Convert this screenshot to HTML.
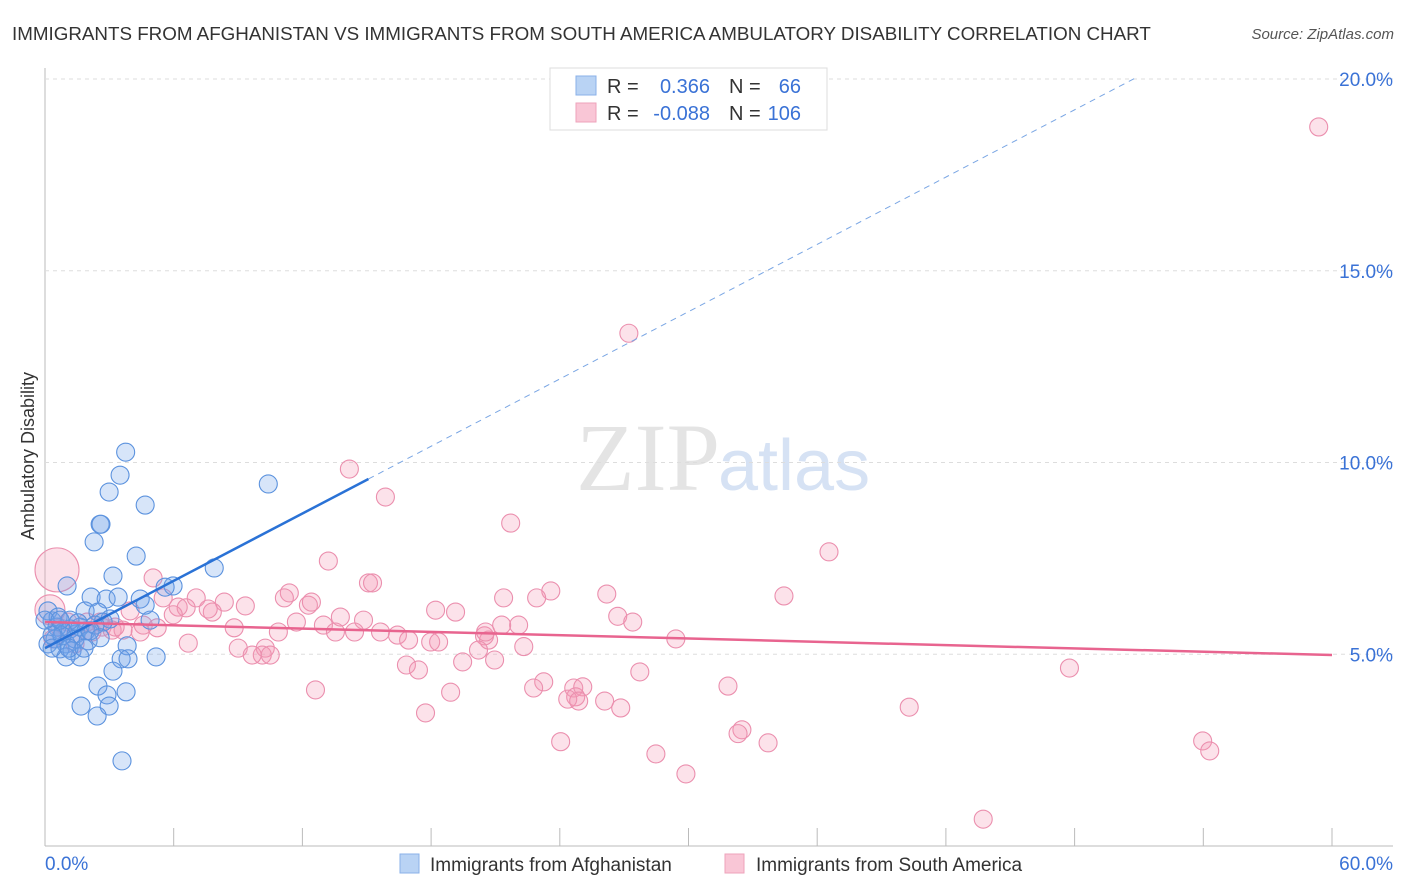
<!DOCTYPE html>
<html><head><meta charset="utf-8"><style>
body{margin:0;background:#fff;font-family:"Liberation Sans",sans-serif}
svg{display:block}
</style></head><body>
<svg id="c" width="1406" height="892">
<text x="12" y="40" font-size="18.8" fill="#333">IMMIGRANTS FROM AFGHANISTAN VS IMMIGRANTS FROM SOUTH AMERICA AMBULATORY DISABILITY CORRELATION CHART</text>
<text x="1394" y="39" font-size="15" fill="#555" font-style="italic" text-anchor="end">Source: ZipAtlas.com</text>
<text x="720" y="490" font-size="96" fill="#e4e4e4" text-anchor="end" font-family="Liberation Serif,serif">ZIP</text>
<text x="718" y="490" font-size="72" fill="#d6e2f4">atlas</text>
<text transform="translate(34,456) rotate(-90)" font-size="18" fill="#333" text-anchor="middle">Ambulatory Disability</text>
<g id="grid"></g><g id="pts"></g><g id="lines"></g>
<g>
<rect x="550" y="68" width="277" height="62" fill="#fff" stroke="#ddd"/>
<rect x="576" y="76" width="20" height="19" fill="#b9d3f4" stroke="#8ab0e8"/>
<rect x="576" y="103" width="20" height="19" fill="#f9c6d6" stroke="#eea3bb"/>
<text x="607" y="93" font-size="20" fill="#333">R =</text>
<text x="710" y="93" font-size="20" fill="#3a72d6" text-anchor="end">0.366</text>
<text x="729" y="93" font-size="20" fill="#333">N =</text>
<text x="801" y="93" font-size="20" fill="#3a72d6" text-anchor="end">66</text>
<text x="607" y="120" font-size="20" fill="#333">R =</text>
<text x="710" y="120" font-size="20" fill="#3a72d6" text-anchor="end">-0.088</text>
<text x="729" y="120" font-size="20" fill="#333">N =</text>
<text x="801" y="120" font-size="20" fill="#3a72d6" text-anchor="end">106</text>
</g>
<g>
<rect x="400" y="854" width="19" height="19" fill="#b9d3f4" stroke="#8ab0e8"/>
<text x="430" y="871" font-size="19" fill="#333">Immigrants from Afghanistan</text>
<rect x="725" y="854" width="19" height="19" fill="#f9c6d6" stroke="#eea3bb"/>
<text x="756" y="871" font-size="19" fill="#333">Immigrants from South America</text>
</g>
</svg>
<script>
const yTicks=[5,10,15,20];
const xTickLabels=["0.0%","60.0%"];
const blueX=[3.76,3.5,2.99,4.67,2.57,2.61,2.29,4.25,10.41,3.17,1.03,5.97,7.89,2.15,2.85,4.44,3.41,5.6,1.87,2.47,3.03,0.14,0.33,0.56,0.84,1.17,1.45,1.63,1.91,0.47,0.98,1.4,2.01,0.14,0.7,1.26,1.63,0.98,3.83,3.55,3.87,5.18,3.17,2.47,3.78,2.89,2.99,1.68,2.43,3.59,2.71,0.61,0.79,0.33,0,2.33,1.17,4.9,4.67,0.33,1.12,2.1,1.54,0.7,1.82,2.57];
const blueY=[10.27,9.67,9.23,8.89,8.39,8.39,7.93,7.56,9.44,7.04,6.78,6.78,7.25,6.49,6.44,6.44,6.49,6.75,6.13,6.1,5.92,6.13,5.87,5.71,5.58,5.66,5.53,5.71,5.61,5.4,5.27,5.4,5.35,5.27,5.14,5.09,4.93,4.93,5.22,4.88,4.88,4.93,4.56,4.17,4.02,3.94,3.65,3.65,3.39,2.22,5.84,5.97,5.48,5.5,5.89,5.76,5.89,5.89,6.28,5.16,5.16,5.61,5.82,5.89,5.16,5.43];
const pinkX=[59.38,27.22,14.19,15.87,21.71,36.55,13.21,5.04,15.08,15.27,23.58,26.19,34.45,22.92,11.39,11.16,12.28,12.42,7.05,8.36,6.21,6.58,7.8,7.61,9.34,13.77,14.85,18.21,19.14,21.38,22.08,21.29,26.7,27.4,5.51,5.98,3.97,4.58,2.66,1.96,1.07,0.7,2.19,3.13,3.64,5.23,4.44,8.82,10.88,11.72,12.98,13.54,14.43,15.64,16.43,16.95,17.98,18.35,20.68,20.49,20.54,22.32,29.41,6.68,9.01,10.27,10.13,9.66,10.5,16.85,17.41,19.47,20.21,20.96,27.73,47.76,23.25,22.78,24.65,25.07,24.74,24.37,24.88,26.09,26.84,18.91,12.61,31.84,40.29,17.74,32.49,32.31,33.71,24.04,28.48,29.88,53.97,54.3,43.74,0.56,0.23,0.37,1.4,2.57,3.27];
const pinkY=[18.75,13.37,9.83,9.1,8.42,7.67,7.43,6.99,6.86,6.86,6.65,6.57,6.52,6.47,6.6,6.47,6.28,6.36,6.47,6.36,6.23,6.21,6.1,6.18,6.26,5.97,5.89,6.15,6.1,6.47,5.76,5.76,5.99,5.84,6.47,6.03,6.13,5.76,5.71,5.84,5.84,5.69,5.58,5.63,5.63,5.69,5.58,5.69,5.58,5.84,5.76,5.58,5.58,5.58,5.5,5.37,5.32,5.32,5.37,5.48,5.58,5.2,5.4,5.29,5.16,5.16,4.98,4.98,4.98,4.72,4.59,4.8,5.11,4.85,4.54,4.64,4.28,4.12,4.12,4.15,3.89,3.83,3.78,3.78,3.6,4.01,4.07,4.17,3.62,3.47,3.03,2.93,2.69,2.72,2.4,1.88,2.74,2.48,0.7,7.2,6.16,5.4,5.27,5.84,5.71];
const pinkR=[9,9,9,9,9,9,9,9,9,9,9,9,9,9,9,9,9,9,9,9,9,9,9,9,9,9,9,9,9,9,9,9,9,9,9,9,9,9,9,9,9,9,9,9,9,9,9,9,9,9,9,9,9,9,9,9,9,9,9,9,9,9,9,9,9,9,9,9,9,9,9,9,9,9,9,9,9,9,9,9,9,9,9,9,9,9,9,9,9,9,9,9,9,9,9,9,9,9,9,22,15,9,9,9,9];
const blueFit=[[0,5.16],[15.08,9.57]], blueSolidEnd=15.08, pinkFit=[[0,5.84],[60,4.98]];
const NS="http://www.w3.org/2000/svg";
const X=v=>45+v*21.45, Y=v=>846-v*38.35;
function mk(t,a,p){const e=document.createElementNS(NS,t);for(const k in a)e.setAttribute(k,a[k]);p.appendChild(e);return e;}
const grid=document.getElementById('grid');
mk('line',{x1:45,y1:68,x2:45,y2:846,stroke:'#bbb'},grid);
mk('line',{x1:45,y1:846,x2:1393,y2:846,stroke:'#bbb'},grid);
for(let i=0;i<=10;i++){const t=mk('line',{x1:X(i*6),x2:X(i*6),y1:828,y2:846,stroke:'#bbb'},grid);

}
yTicks.forEach(v=>{const l=mk('line',{x1:45,x2:1393,y1:Y(v),y2:Y(v),stroke:'#ddd','stroke-dasharray':'4,4'},grid);


const t=mk('text',{x:1393,y:Y(v)+7,'font-size':19,fill:'#3a72d6','text-anchor':'end'},grid);t.textContent=v.toFixed(1)+'%';

});
const x0=mk('text',{x:45,y:870,'font-size':19,fill:'#3a72d6'},grid);x0.textContent=xTickLabels[0];


const x1=mk('text',{x:1393,y:870,'font-size':19,fill:'#3a72d6','text-anchor':'end'},grid);x1.textContent=xTickLabels[1];


const pts=document.getElementById('pts');
pinkX.forEach((v,i)=>{const c=mk('circle',{cx:X(v),cy:Y(pinkY[i]),r:pinkR[i],fill:'rgba(244,150,180,0.28)',stroke:'#eb8fae','stroke-width':1.1},pts);

});
blueX.forEach((v,i)=>{const c=mk('circle',{cx:X(v),cy:Y(blueY[i]),r:9,fill:'rgba(110,160,232,0.28)',stroke:'#5b92de','stroke-width':1.1},pts);

});
const ln=document.getElementById('lines');
const by=x=>blueFit[0][1]+(blueFit[1][1]-blueFit[0][1])*(x-blueFit[0][0])/(blueFit[1][0]-blueFit[0][0]);
const bs=mk('line',{x1:X(0),y1:Y(by(0)),x2:X(blueSolidEnd),y2:Y(by(blueSolidEnd)),stroke:'#2a72d6','stroke-width':2.5},ln);


const xe=blueFit[0][0]+(20.03-blueFit[0][1])/(blueFit[1][1]-blueFit[0][1])*(blueFit[1][0]-blueFit[0][0]);
const bd=mk('line',{x1:X(blueSolidEnd),y1:Y(by(blueSolidEnd)),x2:X(xe),y2:Y(by(xe)),stroke:'#7aa6e4','stroke-width':1,'stroke-dasharray':'6,5'},ln);


const pl=mk('line',{x1:X(pinkFit[0][0]),y1:Y(pinkFit[0][1]),x2:X(pinkFit[1][0]),y2:Y(pinkFit[1][1]),stroke:'#e8648f','stroke-width':2.5},ln);


</script>
</body></html>
